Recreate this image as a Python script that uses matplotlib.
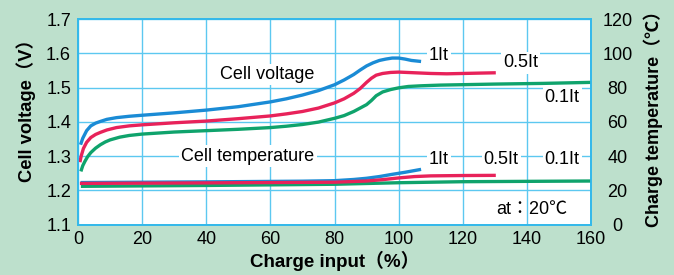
# Charge characteristics: cell voltage and charge temperature vs charge input

import matplotlib.pyplot as plt

plt.rcParams['font.family'] = ['Liberation Sans', 'Noto Sans CJK JP']

# Cell voltage (V) for each charge rate
v1_x = [0.8, 1.5, 2.7, 4, 5.5, 7, 9, 12, 16, 20, 30, 40, 50, 60, 65, 70, 75, 80,
        83, 86, 88, 90, 92, 94, 96, 98, 100, 102, 104, 107]
v1_y = [1.333, 1.352, 1.374, 1.388, 1.396, 1.401, 1.407, 1.412, 1.416, 1.419, 1.426,
        1.434, 1.444, 1.458, 1.467, 1.478, 1.491, 1.508, 1.522, 1.538, 1.551, 1.563,
        1.572, 1.579, 1.583, 1.586, 1.586, 1.583, 1.579, 1.576]

v05_x = [0.6, 1, 1.7, 2.7, 4, 5.5, 7, 9, 12, 16, 20, 30, 40, 50, 60, 65, 70, 75, 80,
         83, 86, 88, 90, 91.5, 93, 95, 97.5, 100, 105, 110, 115, 120, 125, 130.3]
v05_y = [1.282, 1.300, 1.322, 1.340, 1.354, 1.363, 1.369, 1.376, 1.383, 1.388, 1.391,
         1.397, 1.402, 1.409, 1.417, 1.423, 1.430, 1.440, 1.455, 1.467, 1.483, 1.497,
         1.515, 1.527, 1.536, 1.541, 1.544, 1.545, 1.543, 1.541, 1.540, 1.541, 1.542, 1.543]

v01_x = [0.9, 1.5, 2.2, 3, 4, 5.5, 7, 8.5, 10, 13, 16, 20, 30, 40, 50, 60, 65, 70, 75,
         80, 83, 86, 88, 90, 91.5, 93, 95, 97.5, 100, 103, 107, 113, 130, 145, 160]
v01_y = [1.255, 1.272, 1.285, 1.298, 1.310, 1.323, 1.333, 1.341, 1.347, 1.355, 1.360,
         1.364, 1.370, 1.374, 1.378, 1.383, 1.387, 1.392, 1.399, 1.410, 1.418, 1.430,
         1.440, 1.450, 1.462, 1.476, 1.487, 1.494, 1.499, 1.503, 1.505, 1.507, 1.510,
         1.512, 1.515]

# Charge temperature (degC)
t1_x = [0.8, 40, 70, 80, 86, 90, 94, 98, 102, 107]
t1_y = [24.5, 24.9, 25.3, 25.6, 26.3, 27.0, 28.0, 29.3, 30.5, 32.2]

t05_x = [0.6, 40, 80, 90, 95, 100, 105, 110, 120, 130.3]
t05_y = [24.0, 24.3, 24.7, 25.4, 26.2, 27.2, 28.0, 28.4, 28.6, 28.7]

t01_x = [0.9, 40, 80, 100, 120, 160]
t01_y = [22.3, 22.8, 23.5, 24.4, 25.0, 25.4]

blue = '#1a8bd5'
red = '#e8225a'
green = '#0fa36c'
grid_c = '#5cc8f0'
bg = '#bde0cc'

fig = plt.figure(figsize=(6.74, 2.75), dpi=100, facecolor=bg)
ax = fig.add_axes([0.1157, 0.1836, 0.7612, 0.7473])
ax2 = ax.twinx()

ax.set_xlim(0, 160)
ax.set_ylim(1.1, 1.7)
ax2.set_ylim(0, 120)
ax.set_xticks(range(0, 161, 20))
ax.set_yticks([1.1, 1.2, 1.3, 1.4, 1.5, 1.6, 1.7])
ax2.set_yticks(range(0, 121, 20))
ax.grid(True, color=grid_c, lw=1.0)
ax.set_axisbelow(True)

for a in (ax, ax2):
    for s in a.spines.values():
        s.set_color('#35b9ea')
        s.set_linewidth(1.3)
    a.tick_params(length=0, labelsize=13, pad=5)

# right tick labels are centred in the reference
ax2.tick_params(pad=19)
for lab in ax2.get_yticklabels():
    lab.set_horizontalalignment('center')

lw = 2.4
style = dict(lw=lw, solid_capstyle='butt', solid_joinstyle='round')
ax.plot(v01_x, v01_y, color=green, zorder=3, **style)
ax.plot(v05_x, v05_y, color=red, zorder=3, **style)
ax.plot(v1_x, v1_y, color=blue, zorder=3, **style)

ax2.plot(t1_x, t1_y, color=blue, **style)
ax2.plot(t01_x, t01_y, color=green, **style)
ax2.plot(t05_x, t05_y, color=red, **style)

box = dict(facecolor='white', edgecolor='none', pad=1.5)
ax.text(59, 1.538, 'Cell voltage', fontsize=13, ha='center', va='center', bbox=box)
ax.text(53, 1.3, 'Cell temperature', fontsize=13, ha='center', va='center', bbox=box)
ax.text(112.5, 1.592, '1It', fontsize=13, ha='center', va='center', bbox=box)
ax.text(138, 1.572, '0.5It', fontsize=13, ha='center', va='center', bbox=box)
ax.text(151, 1.47, '0.1It', fontsize=13, ha='center', va='center', bbox=box)
ax.text(112.5, 1.29, '1It', fontsize=13, ha='center', va='center', bbox=box)
ax.text(132, 1.29, '0.5It', fontsize=13, ha='center', va='center', bbox=box)
ax.text(151, 1.29, '0.1It', fontsize=13, ha='center', va='center', bbox=box)
ax.text(141.5, 1.143, 'at：20℃', fontsize=13, ha='center', va='center')

ax.set_xlabel('Charge input（%）', fontsize=13.5, fontweight='bold', labelpad=2)
ax.set_ylabel('Cell voltage（V）', fontsize=13.2, fontweight='bold')
ax.yaxis.set_label_coords(-0.082, 0.578)
ax2.set_ylabel('Charge temperature（℃）', fontsize=13, fontweight='bold')
ax2.yaxis.set_label_coords(1.102, 0.535)

fig.savefig('out.png', dpi=100, facecolor=bg)
